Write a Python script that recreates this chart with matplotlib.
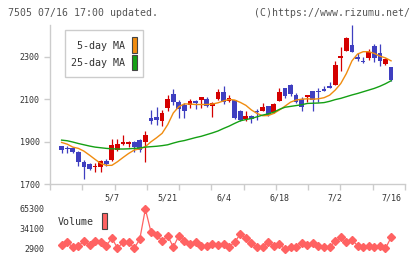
import numpy as np
import matplotlib
matplotlib.use('Agg')
import matplotlib.pyplot as plt
from matplotlib.patches import Rectangle

# daily candles (index 0 .. 60)
opens  = [1868, 1880, 1869, 1871, 1852, 1805, 1794, 1778, 1781, 1810,
          1813, 1860, 1887, 1891, 1899, 1907, 1899, 2010, 2017, 1997,
          2060, 2124, 2085, 2072, 2072, 2091, 2097, 2100, 2069, 2100,
          2133, 2093, 2096, 2044, 2008, 2020, 2045, 2044, 2067, 2038,
          2093, 2151, 2167, 2119, 2100, 2111, 2138, 2140, 2147, 2162,
          2166, 2295, 2328, 2355, 2297, 2280, 2295, 2350, 2316, 2265,
          2250]
highs  = [1868, 1880, 1880, 1876, 1855, 1813, 1797, 1800, 1813, 1817,
          1912, 1910, 1931, 1904, 1902, 1910, 1949, 2048, 2062, 2050,
          2119, 2148, 2096, 2080, 2100, 2098, 2111, 2111, 2085, 2150,
          2163, 2119, 2098, 2049, 2045, 2025, 2052, 2083, 2069, 2083,
          2154, 2154, 2171, 2127, 2111, 2119, 2138, 2151, 2163, 2182,
          2281, 2344, 2395, 2449, 2316, 2297, 2336, 2360, 2360, 2295,
          2253]
lows   = [1868, 1847, 1847, 1844, 1784, 1723, 1766, 1758, 1758, 1784,
          1810, 1857, 1883, 1876, 1852, 1850, 1805, 1985, 1976, 1975,
          2045, 2074, 2010, 2010, 2058, 2053, 2058, 2064, 2017, 2095,
          2077, 2088, 2006, 1998, 1998, 1986, 2002, 2044, 2020, 2036,
          2093, 2107, 2115, 2080, 2045, 2088, 2045, 2088, 2138, 2152,
          2166, 2234, 2326, 2324, 2278, 2272, 2284, 2276, 2258, 2262,
          2185]
closes = [1868, 1862, 1866, 1852, 1805, 1781, 1769, 1786, 1810, 1794,
          1883, 1888, 1899, 1899, 1876, 1862, 1930, 1998, 2001, 2036,
          2103, 2086, 2053, 2045, 2091, 2084, 2110, 2069, 2082, 2132,
          2088, 2108, 2012, 2001, 2020, 2008, 2040, 2063, 2025, 2077,
          2135, 2115, 2124, 2088, 2064, 2119, 2096, 2136, 2138, 2152,
          2261, 2305, 2390, 2324, 2289, 2275, 2324, 2295, 2281, 2289,
          2190]

# moving averages (start at index 1)
ma5 = [1896, 1888, 1874, 1868, 1855, 1836, 1816, 1797, 1788, 1788,
       1805, 1825, 1844, 1860, 1866, 1876, 1899, 1918, 1939, 1980,
       2035, 2065, 2078, 2077, 2075, 2075, 2075, 2077, 2083, 2092,
       2099, 2096, 2085, 2071, 2049, 2033, 2022, 2023, 2033, 2049,
       2067, 2086, 2096, 2100, 2102, 2100, 2102, 2107, 2119, 2143,
       2174, 2221, 2281, 2313, 2324, 2324, 2316, 2303, 2295, 2281]
ma25 = [1907, 1904, 1898, 1891, 1885, 1879, 1874, 1871, 1868, 1866,
        1865, 1865, 1866, 1868, 1870, 1874, 1876, 1878, 1881, 1885,
        1893, 1900, 1905, 1912, 1919, 1925, 1933, 1941, 1950, 1962,
        1973, 1986, 1998, 2004, 2009, 2017, 2025, 2031, 2039, 2052,
        2062, 2066, 2070, 2074, 2080, 2081, 2082, 2084, 2090, 2098,
        2104, 2112, 2120, 2127, 2135, 2143, 2151, 2161, 2173, 2187]

volume = [9600, 13200, 6000, 7000, 15800, 9600, 15800, 13200, 8100, 19900,
          4400, 13200, 14200, 3900, 18400, 65300, 29700, 25100, 15800, 23500,
          6000, 23500, 15800, 10600, 13200, 8100, 8100, 10600, 9100, 10600,
          6500, 13700, 26100, 19900, 12200, 6000, 6000, 13700, 8100, 10600,
          2900, 5500, 6000, 12200, 9100, 11700, 7000, 6000, 6000, 14800,
          20900, 13200, 17300, 8100, 6000, 8100, 6000, 8100, 3900, 20900]

date_pos = [10, 20, 30, 40, 50, 60]
date_labels = ['5/7', '5/21', '6/4', '6/18', '7/2', '7/16']
price_ticks = [1700, 1900, 2100, 2300]
vol_ticks = [2900, 34100, 65300]

RED = '#d40000'
BLUE = '#3f3fc0'
ORANGE = '#f08c10'
GREEN = '#14a014'
VOLC = '#ff6262'
AXC = '#cccccc'
TXT = '#333333'
MONO = 'DejaVu Sans Mono'

W, H = 420, 259
fig = plt.figure(figsize=(W / 100, H / 100), dpi=100)

def box(x0, y0, x1, y1):
    # pixel box (top-left origin) -> figure fraction rect
    return [x0 / W, 1 - y1 / H, (x1 - x0) / W, (y1 - y0) / H]

XL = (-1.08, 62.5)
ax = fig.add_axes(box(50, 25, 405, 184))
x = np.arange(len(opens))
o = np.array(opens); c = np.array(closes)
cols = [RED if cc >= oo else BLUE for oo, cc in zip(o, c)]
ax.vlines(x, lows, highs, colors=cols, linewidth=0.9, zorder=2)
hgt = np.maximum(np.abs(c - o), 2.5)
bot = np.minimum(o, c)
ax.bar(x, hgt, bottom=bot, width=0.85, color=cols, linewidth=0, zorder=3)
xm = np.arange(1, len(ma5) + 1)
ax.plot(xm, ma5, color=ORANGE, linewidth=1.0, zorder=4)
ax.plot(xm, ma25, color=GREEN, linewidth=1.0, zorder=4)

ax.set_xlim(*XL)
ax.set_ylim(1700, 2450)
for s in ['top', 'right']:
    ax.spines[s].set_visible(False)
for s in ['left', 'bottom']:
    ax.spines[s].set_color(AXC)
    ax.spines[s].set_linewidth(1.0)
ax.set_yticks(price_ticks)
ax.set_yticklabels([str(t) for t in price_ticks], fontsize=6, family=MONO, color=TXT)
ax.tick_params(axis='y', length=4.3, width=1, color=AXC, pad=3)
ax.set_xticks(date_pos)
ax.set_xticklabels(date_labels, fontsize=6, family=MONO, color=TXT)
ax.tick_params(axis='x', which='major', length=0, pad=7)
ax.set_xticks(np.linspace(XL[0], XL[1], 12), minor=True)
ax.tick_params(axis='x', which='minor', length=4, width=1, color=AXC)

# volume panel
vx = fig.add_axes(box(50, 209, 405, 249))
vx.plot(np.arange(1, len(volume) + 1), volume, color=VOLC, linewidth=0.9,
        marker='D', markersize=4.2, clip_on=False)
vx.set_xlim(*XL)
vx.set_ylim(2900, 65300)
for s in vx.spines.values():
    s.set_visible(False)
vx.set_xticks([])
vx.set_yticks(vol_ticks)
vx.set_yticklabels([str(t) for t in vol_ticks], fontsize=6, family=MONO, color=TXT)
vx.tick_params(axis='y', length=0, pad=4.3)

# header
fig.text(8 / W, 1 - 12.5 / H, '7505 07/16 17:00 updated.', fontsize=7.1,
         family=MONO, color='#555555', va='center', ha='left')
fig.text(410 / W, 1 - 12.5 / H, '(C)https://www.rizumu.net/', fontsize=7.1,
         family=MONO, color='#555555', va='center', ha='right')

# legend box
fig.add_artist(Rectangle((65 / W, 1 - 77 / H), 78 / W, 47 / H, transform=fig.transFigure,
                         facecolor='white', edgecolor=AXC, linewidth=1, zorder=5))
fig.text(125 / W, 1 - 46 / H, '5-day MA', fontsize=7.2, family=MONO, color=TXT,
         va='center', ha='right', zorder=6)
fig.text(125 / W, 1 - 63 / H, '25-day MA', fontsize=7.2, family=MONO, color=TXT,
         va='center', ha='right', zorder=6)
fig.add_artist(Rectangle((131.5 / W, 1 - 52.5 / H), 5.5 / W, 15.5 / H, transform=fig.transFigure,
                         facecolor=ORANGE, edgecolor='#444444', linewidth=0.8, zorder=6))
fig.add_artist(Rectangle((131.5 / W, 1 - 70 / H), 5.5 / W, 15.5 / H, transform=fig.transFigure,
                         facecolor=GREEN, edgecolor='#444444', linewidth=0.8, zorder=6))

fig.text(58 / W, 1 - 222 / H, 'Volume', fontsize=7.2, family=MONO, color=TXT,
         va='center', ha='left')
fig.add_artist(Rectangle((101.5 / W, 1 - 228.5 / H), 5.5 / W, 15.5 / H, transform=fig.transFigure,
                         facecolor=VOLC, edgecolor='#444444', linewidth=0.8, zorder=6))

fig.savefig('out.png', dpi=100)
